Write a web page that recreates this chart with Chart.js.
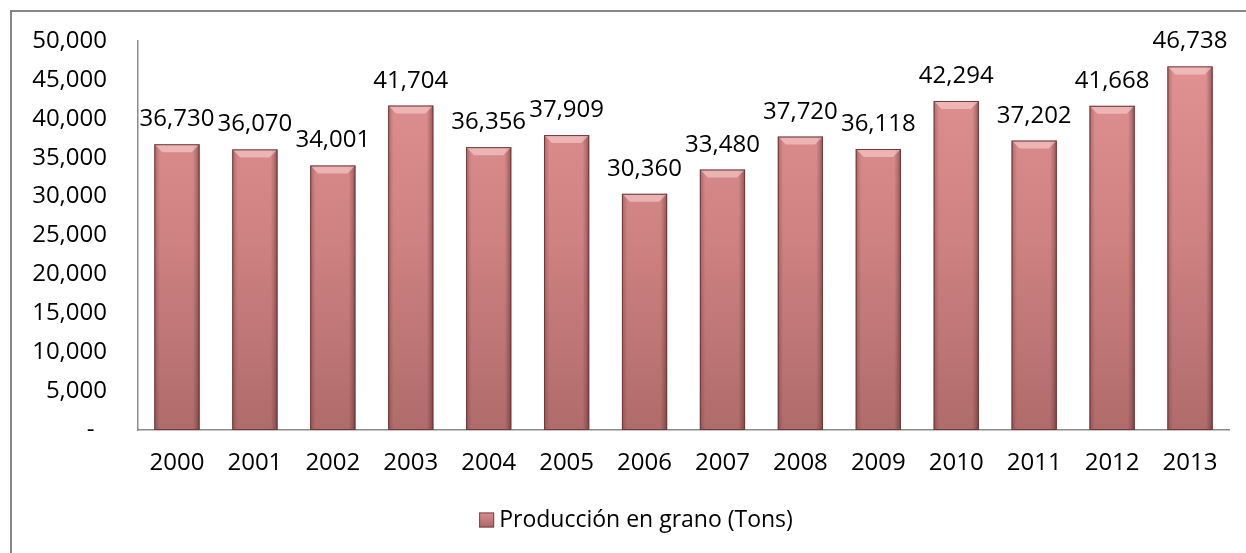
<!DOCTYPE html>
<html>
<head>
<meta charset="utf-8">
<script src="https://cdn.jsdelivr.net/npm/chart.js"></script>
<style>
  html, body { margin: 0; padding: 0; background: #fff; }
  #wrap { width: 1246px; height: 553px; }
</style>
</head>
<body>
<div id="wrap"><canvas id="chart"></canvas></div>
<script>
// Data
const years = ["2000", "2001", "2002", "2003", "2004", "2005", "2006",
               "2007", "2008", "2009", "2010", "2011", "2012", "2013"];
const production = [36730, 36070, 34001, 41704, 36356, 37909, 30360,
                    33480, 37720, 36118, 42294, 37202, 41668, 46738];
const seriesLabel = "Producción en grano (Tons)";
const yTicks = [0, 5000, 10000, 15000, 20000, 25000, 30000, 35000, 40000, 45000, 50000];

const FONT = "'Open Sans', 'Liberation Sans', sans-serif";
const FONT_SIZE = 24;
const fmt = (v) => v.toLocaleString("en-US");

// Vertical gradient for the bars (lighter on top, darker at the base)
function barFill(context) {
  const chart = context.chart;
  const area = chart.chartArea;
  if (!area) return "#d48a8a";
  const g = chart.ctx.createLinearGradient(0, area.top, 0, area.bottom);
  g.addColorStop(0, "#e29393");
  g.addColorStop(0.5, "#cf8282");
  g.addColorStop(1, "#b06b6b");
  return g;
}

// Outer frame, like the Excel chart border
const framePlugin = {
  id: "frame",
  beforeDraw(chart) {
    const ctx = chart.ctx;
    ctx.save();
    ctx.strokeStyle = "#878787";
    ctx.lineWidth = 2;
    ctx.strokeRect(11, 11, chart.width + 20, chart.height + 20);
    ctx.restore();
  },
};

// Bevel shading on each bar + value labels above them
const barDecor = {
  id: "barDecor",
  afterDatasetsDraw(chart) {
    const ctx = chart.ctx;
    const meta = chart.getDatasetMeta(0);
    ctx.save();
    meta.data.forEach((bar, i) => {
      const left = bar.x - bar.width / 2;
      const right = bar.x + bar.width / 2;
      const top = bar.y;
      const bottom = bar.base;
      // side shading
      const side = ctx.createLinearGradient(left, 0, right, 0);
      side.addColorStop(0, "rgba(90,40,40,0.35)");
      side.addColorStop(0.12, "rgba(90,40,40,0)");
      side.addColorStop(0.85, "rgba(90,40,40,0)");
      side.addColorStop(1, "rgba(60,20,20,0.45)");
      ctx.fillStyle = side;
      ctx.fillRect(left, top, right - left, bottom - top);
      // top bevel
      const bev = 8;
      ctx.beginPath();
      ctx.moveTo(left, top);
      ctx.lineTo(right, top);
      ctx.lineTo(right - bev, top + bev);
      ctx.lineTo(left + bev, top + bev);
      ctx.closePath();
      ctx.fillStyle = "rgba(255,215,215,0.55)";
      ctx.fill();
      // edges
      ctx.strokeStyle = "#6e3a3a";
      ctx.lineWidth = 1;
      ctx.strokeRect(left + 0.5, top + 0.5, right - left - 1, bottom - top - 1);
      // value label
      ctx.fillStyle = "#000";
      ctx.font = FONT_SIZE + "px " + FONT;
      ctx.textAlign = "center";
      ctx.textBaseline = "alphabetic";
      ctx.fillText(fmt(production[i]), bar.x, top - 18);
    });
    ctx.restore();
  },
};

// Legend drawn by hand so the box/text spacing matches Excel
const legendPlugin = {
  id: "customLegend",
  afterDraw(chart) {
    const ctx = chart.ctx;
    ctx.save();
    ctx.font = "23px " + FONT;
    const tw = ctx.measureText(seriesLabel).width;
    const box = 15, gap = 5;
    const total = box + gap + tw;
    const x0 = chart.width / 2 + 13 - total / 2;
    const yc = 520;
    const g = ctx.createLinearGradient(0, yc - box / 2, 0, yc + box / 2);
    g.addColorStop(0, "#dd9090");
    g.addColorStop(1, "#a86565");
    ctx.fillStyle = g;
    ctx.fillRect(x0, yc - box / 2, box, box);
    ctx.strokeStyle = "#7a4545";
    ctx.lineWidth = 1;
    ctx.strokeRect(x0 + 0.5, yc - box / 2 + 0.5, box - 1, box - 1);
    ctx.fillStyle = "#000";
    ctx.textAlign = "left";
    ctx.textBaseline = "middle";
    ctx.fillText(seriesLabel, x0 + box + gap, yc);
    ctx.restore();
  },
};

new Chart(document.getElementById("chart"), {
  type: "bar",
  data: {
    labels: years,
    datasets: [
      {
        label: seriesLabel,
        data: production,
        backgroundColor: barFill,
        borderWidth: 0,
        categoryPercentage: 1,
        barPercentage: 0.58,
      },
    ],
  },
  options: {
    responsive: true,
    maintainAspectRatio: false,
    animation: false,
    layout: { padding: { top: 41, right: 17, bottom: 70, left: 0 } },
    scales: {
      x: {
        afterFit(scale) {
          scale.height = 53;
        },
        grid: { display: false, drawTicks: false },
        border: { display: true, color: "#8c8c8c", width: 1.5 },
        ticks: { color: "#000", font: { family: FONT, size: FONT_SIZE }, padding: 19 },
      },
      y: {
        min: 0,
        max: 50000,
        afterBuildTicks(scale) {
          scale.ticks = yTicks.map((v) => ({ value: v }));
        },
        afterFit(scale) {
          scale.width = 138;
          scale.paddingTop = 0;
          scale.paddingBottom = 0;
        },
        grid: { display: false, drawTicks: false },
        border: { display: true, color: "#8c8c8c", width: 1.5 },
        ticks: {
          color: "#000",
          font: { family: FONT, size: FONT_SIZE },
          padding: 31,
          callback: (v) => (v === 0 ? "-  " : fmt(v)),
        },
      },
    },
    plugins: {
      legend: { display: false },
      tooltip: { enabled: false },
    },
  },
  plugins: [framePlugin, barDecor, legendPlugin],
});
</script>
</body>
</html>
